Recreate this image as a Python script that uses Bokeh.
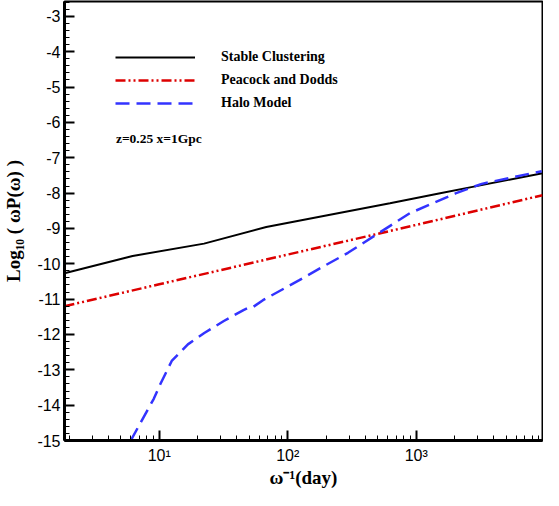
import numpy as np
from bokeh.plotting import figure
from bokeh.models import FixedTicker, Legend, LegendItem, Label, Range1d
from bokeh.embed import file_html
from bokeh.resources import INLINE

# ---- data ----
stable_x = [1.83, 6.2, 22.3, 68, 624, 1500, 2870, 9600]
stable_y = [-10.27, -9.78, -9.43, -8.96, -8.29, -8.01, -7.81, -7.44]

pd_x = [1.83, 10, 100, 1000, 9600]
pd_y = [-11.20, -10.58, -9.74, -8.90, -8.06]

halo_x = [6.0, 9.06, 10.2, 12.5, 16.7, 22.4, 31.8, 45.2, 50.8, 53.8, 64.1,
          122, 184, 294, 559, 891, 2020, 3230, 9460]
halo_y = [-15.0, -13.82, -13.40, -12.75, -12.28, -11.96, -11.62, -11.31, -11.22,
          -11.22, -11.03, -10.47, -10.10, -9.69, -9.04, -8.57, -8.01, -7.74, -7.38]

x_major = [10, 100, 1000]
x_labels = {10: "10¹", 100: "10²", 1000: "10³"}
x_minor = [m * d for d in (1, 10, 100, 1000) for m in range(2, 10)]
y_major = list(range(-15, -2))
y_labels = {v: "-%d" % abs(v) for v in y_major}
y_minor = [round(v, 1) for v in np.arange(-15, -2.5, 0.2)]

p = figure(width=543, height=490, x_axis_type="log",
           x_range=Range1d(1.83, 9600), y_range=Range1d(-15, -2.58),
           output_backend="svg", toolbar_location=None,
           min_border_left=62, min_border_right=1, min_border_top=1,
           min_border_bottom=40)
p.grid.visible = False
p.outline_line_color = "black"
p.outline_line_width = 2
p.background_fill_color = "white"
p.border_fill_color = "white"

r1 = p.line(stable_x, stable_y, line_color="black", line_width=2)
r2 = p.line(pd_x, pd_y, line_color="#dd0000", line_width=2.5, line_dash="10 3 2 3 2 3")
r3 = p.line(halo_x, halo_y, line_color="#3333ff", line_width=2.5, line_dash="14 7")

# axes
p.xaxis.ticker = FixedTicker(ticks=x_major, minor_ticks=x_minor)
p.xaxis.major_label_overrides = x_labels
p.yaxis.ticker = FixedTicker(ticks=y_major, minor_ticks=y_minor)
p.yaxis.major_label_overrides = y_labels
for ax in (p.xaxis[0], p.yaxis[0]):
    ax.axis_line_width = 3
    ax.axis_line_color = "black"
    ax.major_tick_in = 10
    ax.major_tick_out = 0
    ax.minor_tick_in = 5
    ax.minor_tick_out = 0
    ax.major_tick_line_width = 2
    ax.minor_tick_line_width = 1
    ax.major_label_text_font = "Liberation Sans"
    ax.major_label_text_font_size = "16px"
    ax.major_label_text_color = "black"
    ax.axis_label_text_font = "Liberation Serif"
    ax.axis_label_text_font_style = "bold"
    ax.axis_label_text_font_size = "19px"
    ax.axis_label_text_color = "black"

p.xaxis.axis_label = "ω⁻¹(day)"
p.xaxis.major_label_standoff = 6
p.xaxis.axis_label_standoff = 0
p.yaxis.axis_label = "Log₁₀ ( ωP(ω) )"
p.yaxis.major_label_standoff = 4
p.yaxis.axis_label_standoff = 10

legend = Legend(items=[LegendItem(label="Stable Clustering", renderers=[r1]),
                       LegendItem(label="Peacock and Dodds", renderers=[r2]),
                       LegendItem(label="Halo Model", renderers=[r3])],
                location=(51, 327), orientation="vertical",
                glyph_width=80, glyph_height=20, label_height=20,
                label_standoff=26, spacing=3, padding=0, margin=0,
                label_text_font="Liberation Serif", label_text_font_style="bold",
                label_text_font_size="14px", label_text_color="black",
                background_fill_alpha=0, border_line_alpha=0)
p.add_layout(legend)

p.add_layout(Label(x=4.6, y=-6.45, text="z=0.25 x=1Gpc", text_baseline="middle",
                   text_font="Liberation Serif", text_font_style="bold",
                   text_font_size="13.5px", text_color="black"))

open("out.html", "w").write(file_html(p, INLINE))
